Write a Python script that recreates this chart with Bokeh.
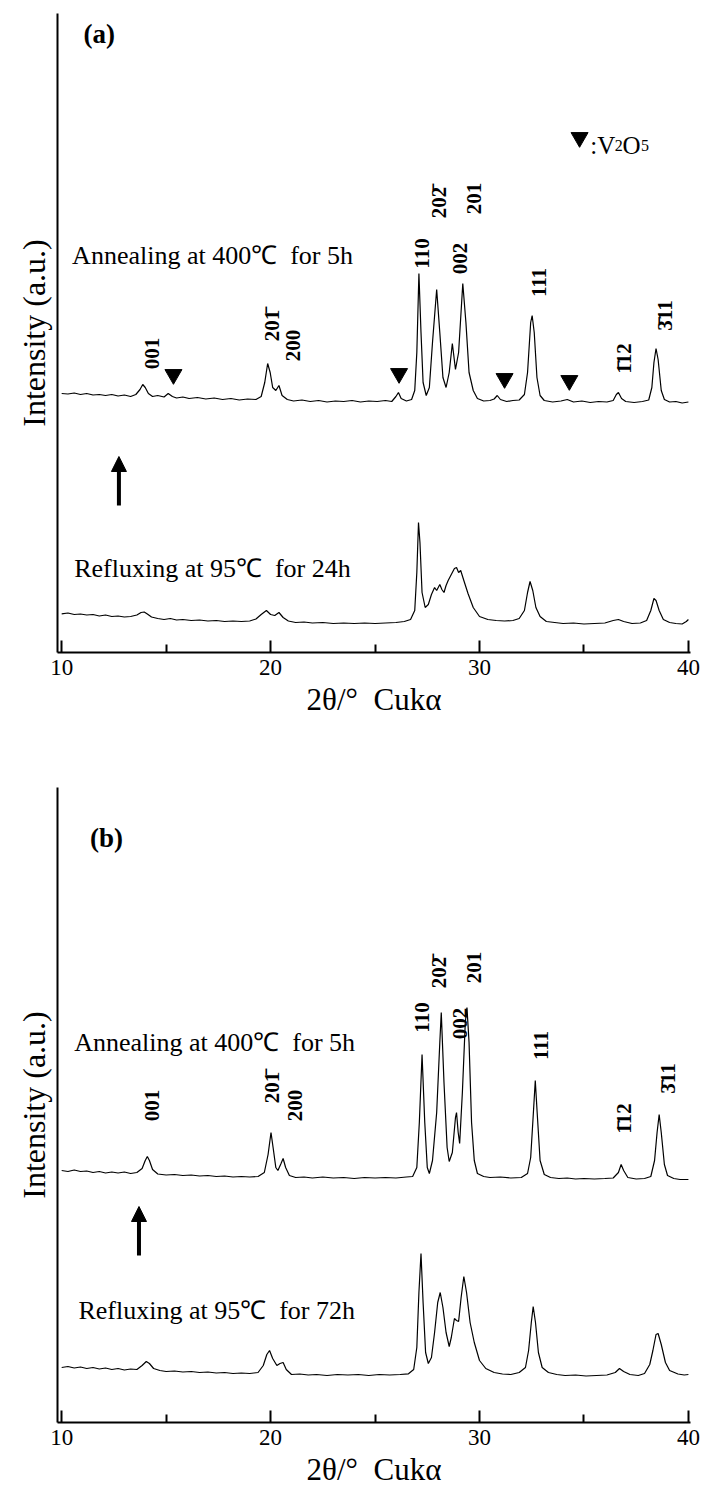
import math
from bokeh.plotting import figure
from bokeh.models import Range1d, FixedTicker, Label, Arrow, NormalHead
from bokeh.layouts import column
from bokeh.embed import file_html
from bokeh.resources import INLINE

FONT = "Liberation Serif"
NB = "\u00a0"

# ---------------- data (2theta in degrees, intensity in a.u., traces offset) -------------
tt_anneal_a = [10.0, 10.3, 10.6, 10.9, 11.2, 11.5, 11.8, 12.1, 12.4, 12.7, 13.0, 13.3, 13.55, 13.75, 13.88, 14.0,
               14.15, 14.35, 14.6, 14.9, 15.1, 15.3, 15.5, 15.8, 16.1, 16.5, 16.9, 17.3, 17.7, 18.1, 18.5, 18.9,
               19.3, 19.55, 19.72, 19.86, 19.98, 20.1, 20.25, 20.4, 20.55, 20.8, 21.1, 21.5, 21.9, 22.3, 22.7,
               23.1, 23.5, 23.9, 24.3, 24.7, 25.1, 25.5, 25.8, 26.0, 26.12, 26.25, 26.5, 26.75, 26.9, 27.0, 27.1,
               27.2, 27.3, 27.45, 27.6, 27.75, 27.95, 28.1, 28.25, 28.4, 28.55, 28.7, 28.85, 29.0, 29.2, 29.35,
               29.5, 29.7, 29.9, 30.2, 30.5, 30.7, 30.85, 31.0, 31.3, 31.6, 31.9, 32.15, 32.3, 32.45, 32.52, 32.62,
               32.75, 32.9, 33.1, 33.5, 33.9, 34.2, 34.5, 34.9, 35.3, 35.7, 36.1, 36.4, 36.55, 36.65, 36.8, 37.0,
               37.4, 37.8, 38.1, 38.25, 38.35, 38.45, 38.55, 38.7, 38.85, 39.1, 39.4, 39.7, 40.0]
int_anneal_a = [259, 258.5, 259.5, 258, 259, 257.5, 258, 257, 258, 256.5, 257.5, 256, 258, 263, 268, 265,
                259, 256, 257, 255.5, 259, 256, 254.5, 255.5, 254, 255, 253.5, 254.5, 253, 254, 252.5, 253.5,
                253, 256, 270, 289, 280, 265, 262, 267, 257, 253, 251.5, 252.5, 251, 252, 250.5,
                251.5, 251, 252, 250.5, 251.5, 251, 252, 251, 256, 260, 254, 251.5, 253, 262, 300, 379,
                320, 270, 257, 265, 310, 363, 320, 275, 265, 280, 309, 283, 300, 369, 330,
                280, 262, 254, 251.5, 252, 253.5, 257, 253, 251, 252, 252.5, 258, 280, 330, 337, 320,
                275, 257, 252, 250.5, 251.5, 253, 250.5, 251.5, 250, 251, 250.5, 252, 258, 260, 254, 251,
                250, 251, 252.5, 265, 290, 304, 293, 262, 253, 250.5, 251, 249.5, 250.5]

tt_reflux_a = [10.0, 10.3, 10.6, 10.9, 11.2, 11.5, 11.8, 12.1, 12.4, 12.7, 13.0, 13.3, 13.6, 13.8, 13.95, 14.1,
               14.3, 14.6, 14.9, 15.2, 15.5, 15.8, 16.2, 16.6, 17.0, 17.4, 17.8, 18.2, 18.6, 19.0, 19.3, 19.55,
               19.8, 20.0, 20.2, 20.4, 20.6, 20.85, 21.2, 21.6, 22.0, 22.5, 23.0, 23.5, 24.0, 24.5, 25.0, 25.5,
               26.0, 26.4, 26.7, 26.9, 27.0, 27.08, 27.15, 27.25, 27.4, 27.55, 27.7, 27.85, 27.95, 28.1, 28.2,
               28.3, 28.4, 28.5, 28.65, 28.8, 28.9, 29.0, 29.1, 29.25, 29.45, 29.7, 30.0, 30.4, 30.8, 31.2, 31.6,
               31.9, 32.15, 32.3, 32.42, 32.55, 32.7, 32.9, 33.2, 33.6, 34.0, 34.5, 35.0, 35.5, 36.0, 36.4,
               36.65, 36.9, 37.3, 37.7, 38.0, 38.2, 38.35, 38.45, 38.6, 38.8, 39.1, 39.4, 39.7, 39.9, 40.0]
int_reflux_a = [38.7, 39.5, 38, 38.5, 37.5, 38, 36.5, 37.5, 36, 36.5, 35.5, 36, 37.5, 40, 40.5, 38.5,
                35.5, 34, 33, 34, 32.5, 33, 32, 32.5, 31.5, 32, 31, 31.5, 31, 31.5, 33.5, 38,
                42, 38, 37, 40, 35, 31.5, 30, 30.5, 29.5, 30, 29, 29.5, 29, 29.5, 29, 29.5,
                30, 31, 33, 42, 80, 130, 110, 60, 45, 48, 58, 65, 62, 68, 63,
                60, 67, 72, 78, 84, 85, 80, 82, 72, 59, 45, 36, 33, 32, 31.5, 32,
                34, 42, 60, 71, 62, 45, 36, 31, 30, 29, 29.5, 28.5, 29, 29.5, 32,
                33, 31, 29, 29.5, 32, 42, 54, 52, 42, 33, 30, 29, 28.5, 31, 33]

tt_anneal_b = [10.0, 10.3, 10.6, 10.9, 11.2, 11.5, 11.8, 12.1, 12.4, 12.7, 13.0, 13.3, 13.6, 13.85, 14.0, 14.1,
               14.2, 14.35, 14.6, 15.0, 15.4, 15.8, 16.2, 16.6, 17.0, 17.4, 17.8, 18.2, 18.6, 19.0, 19.4, 19.7,
               19.88, 20.02, 20.12, 20.25, 20.35, 20.5, 20.6, 20.72, 20.9, 21.2, 21.6, 22.0, 22.5, 23.0, 23.5,
               24.0, 24.5, 25.0, 25.5, 26.0, 26.5, 26.8, 27.0, 27.12, 27.25, 27.38, 27.5, 27.6, 27.75, 27.95,
               28.1, 28.17, 28.3, 28.45, 28.55, 28.7, 28.85, 28.9, 28.98, 29.05, 29.18, 29.32, 29.4, 29.5, 29.62,
               29.75, 29.9, 30.2, 30.5, 31.0, 31.5, 32.0, 32.3, 32.45, 32.58, 32.67, 32.76, 32.9, 33.1, 33.4,
               33.8, 34.2, 34.6, 35.0, 35.5, 36.0, 36.4, 36.65, 36.78, 36.9, 37.1, 37.5, 37.9, 38.2, 38.38, 38.5,
               38.6, 38.7, 38.85, 39.0, 39.3, 39.6, 40.0]
int_anneal_b = [252, 251, 252.5, 251, 251.5, 250, 251, 249.5, 250.5, 249.5, 250.5, 249, 250, 254, 262, 266,
                262, 253, 248.5, 247.5, 248, 247, 247.5, 246.5, 247, 246, 246.5, 245.5, 246, 245.5, 246, 250,
                268, 290, 275, 255, 252, 259, 264, 255, 247, 245, 245.5, 244.5, 245.5, 244.5, 245,
                244, 245, 244.5, 245, 244.5, 245.5, 246, 255, 300, 368, 300, 255, 249, 262, 310,
                380, 410, 340, 275, 261, 270, 305, 310, 290, 279, 330, 400, 415, 380, 300,
                262, 249, 246, 245, 245.5, 244.5, 245, 249, 265, 310, 342, 310, 262, 248, 245,
                244, 244.5, 243.5, 244, 243.5, 244, 244.5, 250, 258, 252, 245, 243.5, 244, 246, 262, 290,
                308, 290, 258, 247, 244, 243, 243]

tt_reflux_b = [10.0, 10.3, 10.6, 10.9, 11.2, 11.5, 11.8, 12.1, 12.4, 12.7, 13.0, 13.3, 13.6, 13.85, 14.05, 14.2,
               14.4, 14.7, 15.0, 15.4, 15.8, 16.2, 16.6, 17.0, 17.4, 17.8, 18.2, 18.6, 19.0, 19.4, 19.65, 19.82,
               19.95, 20.1, 20.3, 20.45, 20.6, 20.75, 21.0, 21.4, 21.8, 22.2, 22.7, 23.2, 23.7, 24.2, 24.7, 25.2,
               25.7, 26.2, 26.6, 26.85, 27.0, 27.1, 27.2, 27.3, 27.42, 27.55, 27.7, 27.85, 28.0, 28.12, 28.25,
               28.4, 28.55, 28.65, 28.8, 28.9, 29.0, 29.12, 29.25, 29.38, 29.55, 29.75, 30.0, 30.3, 30.7, 31.1,
               31.5, 31.9, 32.2, 32.35, 32.48, 32.57, 32.68, 32.82, 33.0, 33.3, 33.7, 34.1, 34.6, 35.1, 35.6,
               36.1, 36.5, 36.7, 36.9, 37.2, 37.6, 37.9, 38.15, 38.3, 38.45, 38.55, 38.7, 38.9, 39.1, 39.5, 39.8,
               40.0]
int_reflux_b = [55, 56, 54.5, 55.5, 54, 55, 53.5, 54.5, 53, 54, 52.5, 53.5, 53, 57, 61, 59,
                54, 52, 51, 51.5, 50.5, 51, 50, 50.5, 49.5, 50, 49, 49.5, 49, 50, 57, 68,
                72, 64, 57, 59, 60, 53, 48, 48.5, 47.5, 48, 47, 48, 47.5, 48, 47, 48,
                47.5, 48, 48.7, 53, 75, 130, 169, 120, 70, 59, 65, 90, 120, 130, 115,
                90, 76, 85, 104, 102, 101, 125, 146, 130, 100, 80, 62, 54, 50, 48.5,
                48, 50, 55, 72, 100, 116, 100, 70, 55, 50, 48, 47, 47.5, 46.5, 47,
                47.5, 50, 54, 51, 48, 47, 49, 58, 72, 88, 89, 78, 60, 52, 48.5, 47.5,
                48]

# Miller-index labels (overbars as combining macrons)
hkl_labels = ["001", "201\u0304", "200", "110", "202\u0304", "002", "201", "111", "1\u030412", "3\u030411"]
# V2O5 reflections marked in panel (a)
v2o5_tt = [15.35, 26.15, 31.2, 34.3]

tick_values = [10, 20, 30, 40]
minor_tick_values = [15, 25, 35]

# ---------------- annotation placement (layout only) ----------------
hkl_pos_a = [(14.30, 299), (20.08, 327), (21.05, 307), (27.27, 399), (28.04, 450), (29.09, 394),
             (29.76, 454), (32.87, 370), (36.94, 294), (38.86, 337)]
hkl_pos_b = [(14.30, 317), (20.09, 335), (21.15, 317), (27.27, 405), (28.04, 450), (29.09, 399),
             (29.76, 455), (32.92, 377), (36.94, 304), (39.00, 344)]
v2o5_marker_y = [278, 279, 274, 272]


def make_panel(height, top, bottom, yspan):
    p = figure(width=704, height=height, x_range=Range1d(9.8, 40.1), y_range=Range1d(0, yspan),
               output_backend="svg", toolbar_location=None,
               min_border_left=57, min_border_right=14, min_border_top=top, min_border_bottom=bottom)
    p.outline_line_color = None
    p.grid.visible = False
    p.background_fill_color = "white"
    p.border_fill_color = "white"
    xa = p.xaxis[0]
    xa.ticker = FixedTicker(ticks=tick_values, minor_ticks=minor_tick_values)
    xa.major_tick_in = 12
    xa.major_tick_out = 0
    xa.minor_tick_in = 8
    xa.minor_tick_out = 0
    xa.axis_line_width = 2
    xa.major_tick_line_width = 2
    xa.minor_tick_line_width = 2
    xa.axis_line_color = "black"
    xa.major_tick_line_color = "black"
    xa.minor_tick_line_color = "black"
    xa.major_label_text_font = FONT
    xa.major_label_text_font_size = "23px"
    xa.major_label_text_color = "black"
    xa.major_label_standoff = 7
    xa.axis_label = "2\u03b8/\u00b0" + NB + NB + "Cuk\u03b1"
    xa.axis_label_text_font = FONT
    xa.axis_label_text_font_size = "31px"
    xa.axis_label_text_font_style = "normal"
    xa.axis_label_text_color = "black"
    xa.axis_label_standoff = 4
    ya = p.yaxis[0]
    ya.ticker = FixedTicker(ticks=[])
    ya.major_tick_line_color = None
    ya.minor_tick_line_color = None
    ya.major_label_text_font_size = "0px"
    ya.axis_line_width = 2
    ya.axis_line_color = "black"
    ya.axis_label = "Intensity (a.u.)"
    ya.axis_label_text_font = FONT
    ya.axis_label_text_font_size = "32px"
    ya.axis_label_text_font_style = "normal"
    ya.axis_label_text_color = "black"
    ya.axis_label_standoff = 6
    return p


def add_text(p, x, y, text, size, bold=False, angle=0.0, align="left", baseline="middle"):
    p.add_layout(Label(x=x, y=y, text=text, text_font=FONT, text_font_size=size,
                       text_font_style="bold" if bold else "normal", angle=angle,
                       text_align=align, text_baseline=baseline, text_color="black"))


def add_legend_v2o5(p, x0, y0):
    # ":V" + subscript 2 + "O" + subscript 5, laid out piece by piece
    add_text(p, x0, y0, ":V", "25px", baseline="alphabetic")
    add_text(p, x0 + 1.17, y0, "2", "16px", baseline="alphabetic")
    add_text(p, x0 + 1.55, y0, "O", "25px", baseline="alphabetic")
    add_text(p, x0 + 2.43, y0, "5", "16px", baseline="alphabetic")


# ---------------- panel (a) ----------------
pa = make_panel(730, 13, 78, 639)
pa.line(tt_anneal_a, int_anneal_a, line_color="black", line_width=1.2)
pa.line(tt_reflux_a, int_reflux_a, line_color="black", line_width=1.2)
pa.scatter(v2o5_tt, v2o5_marker_y, marker="inverted_triangle", size=17, fill_color="black", line_color="black")
for lab, (lx, ly) in zip(hkl_labels, hkl_pos_a):
    add_text(pa, lx, ly, lab, "21px", bold=True, angle=math.pi / 2, align="center")
add_text(pa, 11.8, 619, "(a)", "27px", bold=True, align="center")
add_text(pa, 10.5, 397, "Annealing at 400\u2103" + NB + " for 5h", "26px")
add_text(pa, 10.6, 84, "Refluxing at 95\u2103" + NB + " for 24h", "26px")
pa.scatter([34.79], [515], marker="inverted_triangle", size=17, fill_color="black", line_color="black")
add_legend_v2o5(pa, 35.3, 507)
pa.add_layout(Arrow(x_start=12.74, y_start=147, x_end=12.74, y_end=196, line_width=4, line_color="black",
                    end=NormalHead(size=15, fill_color="black", line_color="black")))

# ---------------- panel (b) ----------------
pb = make_panel(760, 57, 68, 635)
pb.line(tt_anneal_b, int_anneal_b, line_color="black", line_width=1.2)
pb.line(tt_reflux_b, int_reflux_b, line_color="black", line_width=1.2)
for lab, (lx, ly) in zip(hkl_labels, hkl_pos_b):
    add_text(pb, lx, ly, lab, "21px", bold=True, angle=math.pi / 2, align="center")
add_text(pb, 12.14, 585, "(b)", "27px", bold=True, align="center")
add_text(pb, 10.6, 380, "Annealing at 400\u2103" + NB + " for 5h", "26px")
add_text(pb, 10.8, 112, "Refluxing at 95\u2103" + NB + " for 72h", "26px")
pb.add_layout(Arrow(x_start=13.7, y_start=167, x_end=13.7, y_end=216, line_width=4, line_color="black",
                    end=NormalHead(size=15, fill_color="black", line_color="black")))

layout = column(pa, pb, spacing=0)
open("out.html", "w").write(file_html(layout, INLINE))
